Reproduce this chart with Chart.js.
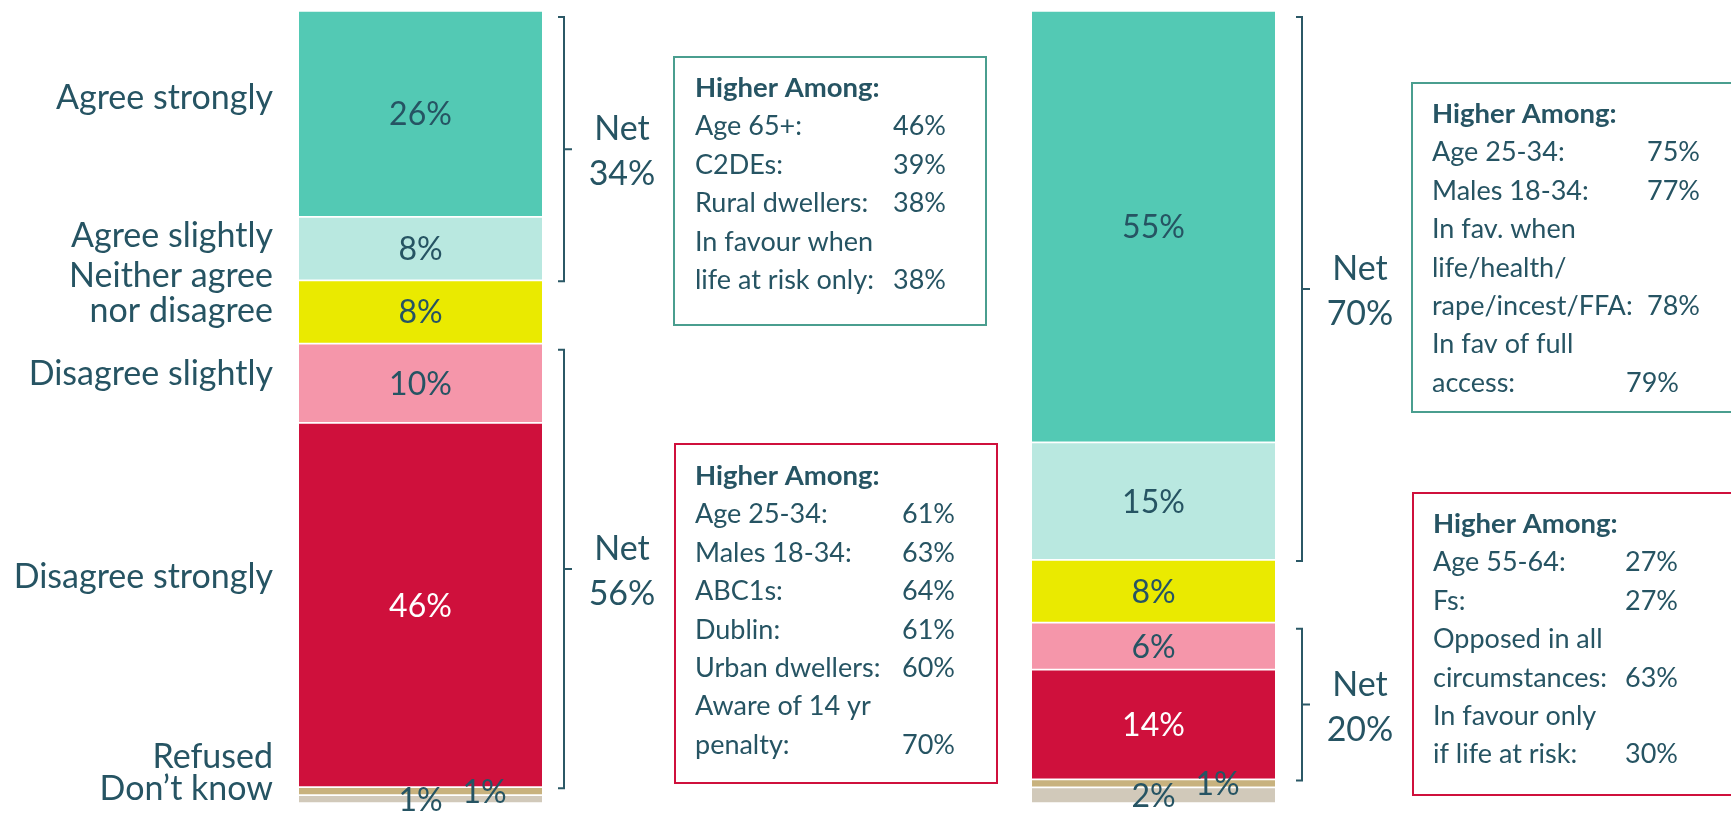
<!DOCTYPE html>
<html><head><meta charset="utf-8">
<script src="https://cdn.jsdelivr.net/npm/chart.js@4.4.1/dist/chart.umd.min.js"></script>
<style>html,body{margin:0;padding:0;background:#fff;overflow:hidden}#wrap{position:relative;width:1731px;height:813px}</style>
</head><body><div id="wrap"><canvas id="c" width="1731" height="813"></canvas></div>
<script>
// ---------- DATA ----------
const categories = ["Agree strongly", "Agree slightly", "Neither agree\nnor disagree", "Disagree slightly", "Disagree strongly", "Refused", "Don’t know"];
const leftValues = [26, 8, 8, 10, 46, 1, 1];
const rightValues = [55, 15, 8, 6, 14, 1, 2];
const segmentColors = ["#53C9B4", "#B9E8E0", "#EAEA00", "#F596AA", "#CF103C", "#C8B27E", "#D1C9BA"];
const netGroups = [[0, 1], [3, 4]];
const leftNet = [34, 56];
const rightNet = [70, 20];
const boxHeader = "Higher Among:";
const leftAgreeBox = [["Age 65+:", "46%"], ["C2DEs:", "39%"], ["Rural dwellers:", "38%"], ["In favour when", ""], ["life at risk only:", "38%"]];
const leftDisagreeBox = [["Age 25-34:", "61%"], ["Males 18-34:", "63%"], ["ABC1s:", "64%"], ["Dublin:", "61%"], ["Urban dwellers:", "60%"], ["Aware of 14 yr", ""], ["penalty:", "70%"]];
const rightAgreeBox = [["Age 25-34:", "75%"], ["Males 18-34:", "77%"], ["In fav. when", ""], ["life/health/", ""], ["rape/incest/FFA:", "78%"], ["In fav of full", ""], ["access:", "79%"]];
const rightDisagreeBox = [["Age 55-64:", "27%"], ["Fs:", "27%"], ["Opposed in all", ""], ["circumstances:", "63%"], ["In favour only", ""], ["if life at risk:", "30%"]];

// ---------- STYLE / LAYOUT ----------
const TEXT = "#265463";
const FONT = "Lato";
const sum = a => a.reduce((s, v) => s + v, 0);

const datasets = [];
categories.forEach((c, i) => {
  datasets.push({ label: c, data: [leftValues[i], null], backgroundColor: segmentColors[i], yAxisID: "yL", stack: "s", side: 0, seg: i });
  datasets.push({ label: c, data: [null, rightValues[i]], backgroundColor: segmentColors[i], yAxisID: "yR", stack: "s", side: 1, seg: i });
});

const catLabelBaselines = [[109], [247], [287, 322], [385], [588], [768], [800]];
const boxLayout = [
  { lines: leftAgreeBox, x: 674, y: 57, w: 312, h: 268, color: "#4A9E8F", tx: 695, ty: 97, tab: 198 },
  { lines: leftDisagreeBox, x: 675, y: 444, w: 322, h: 339, color: "#CF103C", tx: 695, ty: 485, tab: 207 },
  { lines: rightAgreeBox, x: 1412, y: 83, w: 360, h: 329, color: "#4A9E8F", tx: 1432, ty: 123, tab: 215, tabOverride: { 6: 194 } },
  { lines: rightDisagreeBox, x: 1413, y: 493, w: 360, h: 302, color: "#CF103C", tx: 1433, ty: 533, tab: 192 }
];

function elFor(chart, side, seg) {
  const di = chart.data.datasets.findIndex(d => d.side === side && d.seg === seg);
  return chart.getDatasetMeta(di).data[side];
}

const overlay = {
  id: "overlay",
  afterDatasetsDraw(chart) {
    const ctx = chart.ctx;
    ctx.save();
    // segment value labels
    ctx.textAlign = "center";
    ctx.textBaseline = "alphabetic";
    ctx.font = `32px ${FONT}`;
    chart.data.datasets.forEach((ds, di) => {
      const el = chart.getDatasetMeta(di).data[ds.side];
      const v = ds.data[ds.side];
      const top = Math.min(el.y, el.base), bottom = Math.max(el.y, el.base);
      let cx = el.x;
      if (ds.seg === 5) cx += 64;
      const cy = (top + bottom) / 2;
      ctx.fillStyle = ds.seg === 4 ? "#FFFFFF" : TEXT;
      ctx.fillText(v + "%", cx, cy + 11.5);
    });
    // category labels
    ctx.textAlign = "right";
    ctx.font = `34px ${FONT}`;
    ctx.fillStyle = TEXT;
    categories.forEach((c, i) => {
      c.split("\n").forEach((line, li) => ctx.fillText(line, 273, catLabelBaselines[i][li]));
    });
    // brackets + net labels
    const bracketDx = [22, 27];
    [leftNet, rightNet].forEach((nets, side) => {
      netGroups.forEach((g, gi) => {
        const a = elFor(chart, side, g[0]), b = elFor(chart, side, g[g.length - 1]);
        const top = Math.min(a.y, a.base) + 6;
        const bottom = Math.max(b.y, b.base) + 1;
        const x = a.x + a.width / 2 + bracketDx[side];
        const mid = (top + bottom) / 2;
        ctx.strokeStyle = "#2B5866";
        ctx.lineWidth = 2;
        ctx.beginPath();
        ctx.moveTo(x - 6, top); ctx.lineTo(x, top); ctx.lineTo(x, bottom); ctx.lineTo(x - 6, bottom);
        ctx.moveTo(x, mid); ctx.lineTo(x + 8, mid);
        ctx.stroke();
        ctx.textAlign = "center";
        ctx.font = `34px ${FONT}`;
        ctx.fillStyle = TEXT;
        ctx.fillText("Net", x + 58, mid - 9);
        ctx.fillText(nets[gi] + "%", x + 58, mid + 36);
      });
    });
    // boxes
    boxLayout.forEach(bx => {
      ctx.strokeStyle = bx.color;
      ctx.lineWidth = 2;
      ctx.strokeRect(bx.x, bx.y, bx.w, bx.h);
      ctx.textAlign = "left";
      ctx.fillStyle = TEXT;
      ctx.font = `bold 27.5px ${FONT}`;
      ctx.fillText(boxHeader, bx.tx, bx.ty);
      ctx.font = `27px ${FONT}`;
      bx.lines.forEach((ln, i) => {
        const y = bx.ty + (i + 1) * 38.4;
        ctx.fillText(ln[0], bx.tx, y);
        if (ln[1]) {
          const tab = (bx.tabOverride && bx.tabOverride[i] !== undefined) ? bx.tabOverride[i] : bx.tab;
          const w = ctx.measureText(ln[0] + " ").width;
          ctx.fillText(ln[1], bx.tx + Math.max(tab, w), y);
        }
      });
    });
    ctx.restore();
  }
};

new Chart(document.getElementById("c"), {
  type: "bar",
  data: { labels: ["Left", "Right"], datasets },
  options: {
    responsive: false,
    devicePixelRatio: 1,
    animation: false,
    layout: { padding: { left: 54, right: 211, top: 11, bottom: 10 } },
    datasets: { bar: { barThickness: 243, borderColor: "#FFFFFF", borderWidth: { top: 1.2, bottom: 1.2, left: 0, right: 0 }, borderSkipped: false } },
    scales: {
      x: { type: "category", display: false, stacked: true, offset: true, grid: { display: false } },
      yL: { type: "linear", display: false, stacked: true, reverse: true, min: 0, max: sum(leftValues), grid: { display: false } },
      yR: { type: "linear", display: false, stacked: true, reverse: true, min: 0, max: sum(rightValues), grid: { display: false } }
    },
    plugins: { legend: { display: false }, tooltip: { enabled: false } }
  },
  plugins: [overlay]
});
</script>
</body></html>
